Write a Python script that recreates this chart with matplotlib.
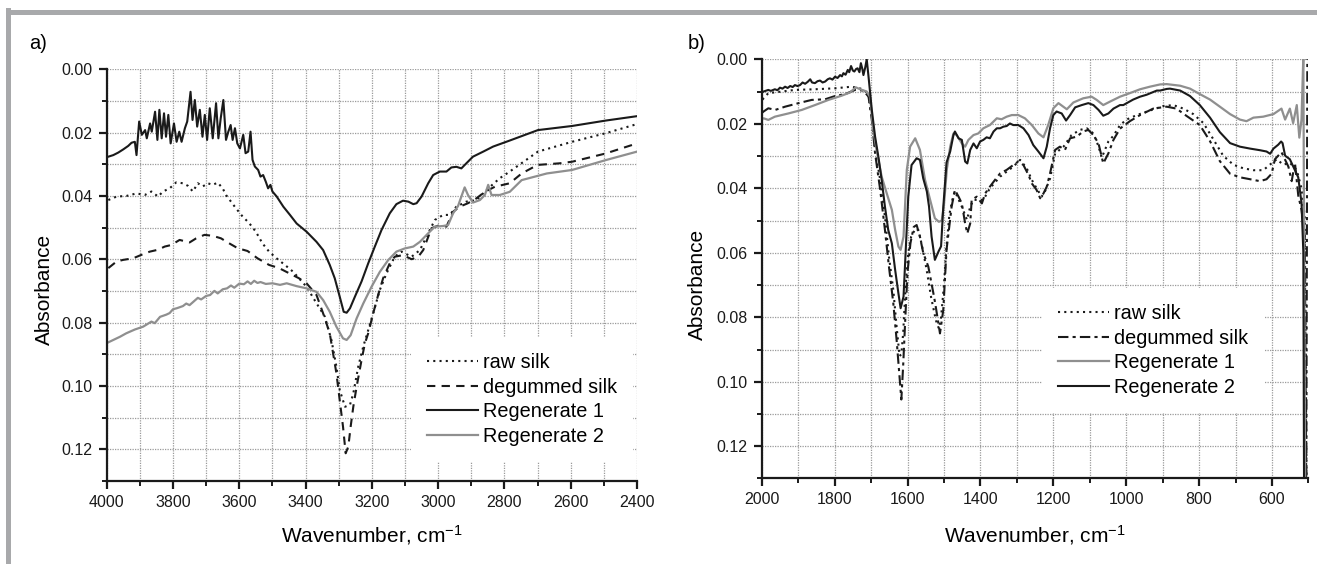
import matplotlib
matplotlib.use("Agg")
import matplotlib.pyplot as plt
from matplotlib.lines import Line2D
from matplotlib.ticker import MultipleLocator, FormatStrFormatter

plt.rcParams['font.family'] = ['Liberation Sans', 'DejaVu Sans']
plt.rcParams['mathtext.default'] = 'regular'

# ---- panel a) 4000-2400 cm-1 ----
a_raw_wn = [3995, 3970, 3940, 3910, 3885, 3865, 3845, 3830, 3810, 3790, 3770, 3755, 3740, 3725, 3710,
            3695, 3680, 3665, 3650, 3640, 3625, 3610, 3590, 3570, 3550, 3530, 3510, 3490, 3460, 3437,
            3397, 3367, 3342, 3322, 3307, 3297, 3281, 3266, 3256, 3241, 3226, 3211, 3196, 3176, 3156,
            3131, 3111, 3080, 3055, 3030, 3010, 2985, 2965, 2945, 2915, 2884, 2854, 2814, 2784, 2699,
            2596, 2495, 2400]
a_raw = [0.0413, 0.0402, 0.0400, 0.0392, 0.0397, 0.0386, 0.0402, 0.0386, 0.0376, 0.0357, 0.0360, 0.0368,
         0.0386, 0.0360, 0.0370, 0.0360, 0.0365, 0.0358, 0.0376, 0.0397, 0.0418, 0.0439, 0.0465, 0.0486,
         0.0513, 0.0550, 0.0576, 0.0595, 0.0620, 0.0640, 0.0687, 0.0739, 0.0781, 0.0855, 0.0939, 0.1013,
         0.1066, 0.1060, 0.1024, 0.0939, 0.0876, 0.0824, 0.0771, 0.0697, 0.0645, 0.0592, 0.0576, 0.0592,
         0.0571, 0.0518, 0.0476, 0.0460, 0.0460, 0.0434, 0.0418, 0.0413, 0.0381, 0.0344, 0.0323, 0.0260,
         0.0229, 0.0202, 0.0173]

a_deg_wn = [3995, 3970, 3950, 3920, 3895, 3870, 3845, 3825, 3805, 3780, 3750, 3730, 3705, 3680, 3655,
            3635, 3605, 3575, 3545, 3510, 3480, 3450, 3420, 3397, 3367, 3347, 3327, 3317, 3307, 3297,
            3287, 3279, 3271, 3264, 3256, 3246, 3231, 3221, 3211, 3196, 3181, 3166, 3146, 3131, 3106,
            3080, 3060, 3045, 3020, 2995, 2975, 2955, 2935, 2910, 2885, 2859, 2829, 2784, 2748, 2700,
            2634, 2596, 2495, 2400]
a_deg = [0.0628, 0.0607, 0.0602, 0.0597, 0.0586, 0.0576, 0.0570, 0.0560, 0.0555, 0.0539, 0.0547, 0.0534,
         0.0523, 0.0526, 0.0534, 0.0547, 0.0565, 0.0574, 0.0597, 0.0618, 0.0628, 0.0644, 0.0660, 0.0676,
         0.0713, 0.0771, 0.0834, 0.0897, 0.0960, 0.1045, 0.1129, 0.1213, 0.1192, 0.1129, 0.1066, 0.1003,
         0.0918, 0.0866, 0.0834, 0.0771, 0.0713, 0.0660, 0.0613, 0.0592, 0.0587, 0.0600, 0.0592, 0.0571,
         0.0502, 0.0492, 0.0497, 0.0450, 0.0434, 0.0423, 0.0408, 0.0387, 0.0371, 0.0360, 0.0329, 0.0302,
         0.0297, 0.0292, 0.0266, 0.0234]

a_reg1_wn = [3995, 3980, 3965, 3950, 3935, 3925, 3915, 3910, 3902, 3894, 3884, 3879, 3869, 3864, 3854,
             3847, 3841, 3834, 3827, 3821, 3814, 3807, 3797, 3789, 3781, 3774, 3764, 3757, 3747, 3741,
             3734, 3727, 3719, 3711, 3704, 3697, 3689, 3680, 3670, 3663, 3656, 3648, 3640, 3633, 3626,
             3620, 3613, 3606, 3598, 3588, 3581, 3573, 3566, 3560, 3553, 3543, 3536, 3528, 3520, 3513,
             3506, 3500, 3487, 3477, 3467, 3447, 3427, 3397, 3367, 3347, 3327, 3312, 3297, 3285, 3276,
             3266, 3251, 3231, 3211, 3191, 3171, 3146, 3126, 3106, 3090, 3075, 3065, 3050, 3030, 3015,
             2995, 2975, 2960, 2945, 2930, 2915, 2895, 2864, 2834, 2784, 2699, 2596, 2495, 2400]
a_reg1 = [0.0276, 0.0271, 0.0263, 0.0253, 0.0242, 0.0232, 0.0229, 0.0271, 0.0165, 0.0207, 0.0192, 0.0218,
          0.0171, 0.0197, 0.0134, 0.0223, 0.0128, 0.0218, 0.0139, 0.0213, 0.0144, 0.0234, 0.0171, 0.0229,
          0.0197, 0.0229, 0.0186, 0.0165, 0.0071, 0.0160, 0.0097, 0.0181, 0.0128, 0.0213, 0.0144, 0.0223,
          0.0123, 0.0218, 0.0107, 0.0218, 0.0155, 0.0097, 0.0223, 0.0197, 0.0176, 0.0223, 0.0186, 0.0234,
          0.0250, 0.0207, 0.0265, 0.0260, 0.0197, 0.0286, 0.0307, 0.0318, 0.0339, 0.0334, 0.0355, 0.0376,
          0.0365, 0.0386, 0.0402, 0.0418, 0.0434, 0.0460, 0.0487, 0.0513, 0.0545, 0.0571, 0.0618, 0.0660,
          0.0718, 0.0766, 0.0769, 0.0755, 0.0718, 0.0670, 0.0613, 0.0560, 0.0508, 0.0455, 0.0426, 0.0415,
          0.0418, 0.0426, 0.0423, 0.0402, 0.0360, 0.0334, 0.0323, 0.0323, 0.0310, 0.0308, 0.0313, 0.0297,
          0.0276, 0.0260, 0.0244, 0.0225, 0.0192, 0.0179, 0.0162, 0.0148]

a_reg2_wn = [3998, 3960, 3941, 3915, 3890, 3865, 3855, 3839, 3820, 3810, 3800, 3789, 3770, 3760, 3750,
             3738, 3725, 3715, 3700, 3688, 3675, 3665, 3650, 3637, 3625, 3615, 3600, 3586, 3575, 3565,
             3555, 3545, 3536, 3520, 3500, 3477, 3457, 3427, 3397, 3367, 3347, 3327, 3307, 3287, 3276,
             3264, 3246, 3226, 3201, 3176, 3151, 3126, 3101, 3075, 3055, 3030, 3010, 2985, 2970, 2955,
             2940, 2930, 2920, 2910, 2895, 2874, 2859, 2849, 2839, 2814, 2784, 2748, 2672, 2596, 2495, 2400]
a_reg2 = [0.0864, 0.0845, 0.0834, 0.0822, 0.0813, 0.0797, 0.0802, 0.0782, 0.0775, 0.0770, 0.0758, 0.0755,
          0.0748, 0.0740, 0.0745, 0.0734, 0.0722, 0.0727, 0.0716, 0.0713, 0.0700, 0.0708, 0.0695, 0.0692,
          0.0683, 0.0690, 0.0677, 0.0679, 0.0670, 0.0678, 0.0668, 0.0675, 0.0672, 0.0678, 0.0676, 0.0681,
          0.0676, 0.0685, 0.0692, 0.0703, 0.0729, 0.0766, 0.0813, 0.0850, 0.0855, 0.0840, 0.0787, 0.0740,
          0.0687, 0.0640, 0.0603, 0.0576, 0.0566, 0.0560, 0.0545, 0.0518, 0.0497, 0.0495, 0.0492, 0.0455,
          0.0432, 0.0402, 0.0373, 0.0397, 0.0421, 0.0413, 0.0397, 0.0365, 0.0397, 0.0397, 0.0387, 0.0350,
          0.0329, 0.0318, 0.0287, 0.0260]

# ---- panel b) 2000-500 cm-1 ----
b_raw_wn = [1998, 1995, 1982, 1945, 1909, 1854, 1799, 1753, 1721, 1707, 1698, 1689, 1675, 1662, 1651,
            1639, 1630, 1622, 1617, 1612, 1605, 1598, 1590, 1578, 1570, 1560, 1548, 1535, 1522, 1514,
            1508, 1500, 1493, 1485, 1475, 1470, 1451, 1437, 1428, 1419, 1392, 1374, 1346, 1310, 1291,
            1273, 1259, 1246, 1232, 1223, 1209, 1195, 1172, 1150, 1127, 1108, 1090, 1076, 1067, 1058,
            1049, 1035, 1017, 999, 971, 935, 898, 871, 843, 816, 788, 761, 734, 706, 679, 651, 624, 606,
            587, 569, 551, 532, 519, 510, 505]
b_raw = [0.0125, 0.0121, 0.0105, 0.0100, 0.0095, 0.0093, 0.0090, 0.0085, 0.0093, 0.0111, 0.0178, 0.0281,
         0.0374, 0.0488, 0.0612, 0.0716, 0.0829, 0.0920, 0.0915, 0.0850, 0.0700, 0.0600, 0.0550, 0.0525,
         0.0530, 0.0580, 0.0650, 0.0740, 0.0810, 0.0835, 0.0800, 0.0700, 0.0580, 0.0480, 0.0425, 0.0410,
         0.0457, 0.0498, 0.0457, 0.0436, 0.0436, 0.0400, 0.0364, 0.0333, 0.0312, 0.0338, 0.0374, 0.0400,
         0.0426, 0.0410, 0.0370, 0.0292, 0.0271, 0.0235, 0.0219, 0.0214, 0.0230, 0.0270, 0.0305, 0.0280,
         0.0255, 0.0237, 0.0204, 0.0187, 0.0173, 0.0159, 0.0145, 0.0142, 0.0153, 0.0170, 0.0198, 0.0248,
         0.0299, 0.0327, 0.0338, 0.0344, 0.0344, 0.0327, 0.0310, 0.0327, 0.0321, 0.0344, 0.0400, 0.0490,
         0.1350]

b_deg_wn = [1998, 1995, 1982, 1963, 1936, 1899, 1863, 1826, 1799, 1771, 1744, 1721, 1707, 1698, 1689,
            1675, 1662, 1651, 1639, 1630, 1622, 1617, 1612, 1606, 1600, 1592, 1583, 1575, 1566, 1557,
            1543, 1530, 1524, 1511, 1502, 1493, 1479, 1470, 1460, 1451, 1442, 1436, 1428, 1424, 1410,
            1396, 1387, 1374, 1360, 1346, 1328, 1310, 1296, 1282, 1268, 1259, 1246, 1236, 1227, 1218,
            1209, 1195, 1182, 1168, 1154, 1136, 1118, 1104, 1090, 1076, 1063, 1049, 1035, 1017, 990,
            962, 926, 889, 862, 834, 798, 770, 743, 715, 688, 660, 633, 615, 601, 592, 574, 555, 546,
            537, 528, 519, 510, 506, 503]
b_deg = [0.0165, 0.0162, 0.0152, 0.0157, 0.0147, 0.0136, 0.0126, 0.0124, 0.0114, 0.0108, 0.0095, 0.0097,
         0.0116, 0.0188, 0.0292, 0.0405, 0.0529, 0.0643, 0.0757, 0.0870, 0.0984, 0.1055, 0.0950, 0.0800,
         0.0660, 0.0570, 0.0520, 0.0514, 0.0550, 0.0600, 0.0643, 0.0720, 0.0757, 0.0850, 0.0778, 0.0591,
         0.0457, 0.0405, 0.0426, 0.0447, 0.0509, 0.0540, 0.0509, 0.0436, 0.0426, 0.0447, 0.0416, 0.0395,
         0.0374, 0.0354, 0.0343, 0.0328, 0.0317, 0.0328, 0.0359, 0.0385, 0.0405, 0.0431, 0.0416, 0.0395,
         0.0354, 0.0281, 0.0271, 0.0281, 0.0245, 0.0240, 0.0224, 0.0219, 0.0235, 0.0261, 0.0323, 0.0292,
         0.0250, 0.0215, 0.0192, 0.0173, 0.0153, 0.0147, 0.0153, 0.0176, 0.0204, 0.0254, 0.0316, 0.0355,
         0.0366, 0.0372, 0.0378, 0.0372, 0.0355, 0.0310, 0.0288, 0.0333, 0.0378, 0.0321, 0.0422, 0.0467,
         0.0550, 0.1350, -0.0010]

b_reg1_wn = [1998, 1995, 1982, 1964, 1927, 1890, 1854, 1817, 1781, 1758, 1742, 1730, 1712, 1703, 1694,
             1685, 1671, 1657, 1643, 1634, 1625, 1619, 1611, 1602, 1593, 1579, 1566, 1552, 1538, 1525,
             1514, 1506, 1500, 1492, 1483, 1474, 1465, 1451, 1442, 1433, 1419, 1406, 1392, 1374, 1355,
             1342, 1328, 1314, 1296, 1278, 1259, 1241, 1227, 1214, 1200, 1186, 1163, 1145, 1118, 1095,
             1081, 1063, 1044, 1017, 990, 962, 935, 907, 889, 852, 825, 798, 770, 743, 715, 688, 670,
             651, 624, 596, 574, 564, 551, 542, 532, 525, 519, 514, 509]
b_reg1 = [0.0185, 0.0183, 0.0188, 0.0178, 0.0168, 0.0157, 0.0142, 0.0126, 0.0113, 0.0103, 0.0087, 0.0093,
          0.0100, 0.0116, 0.0219, 0.0281, 0.0364, 0.0416, 0.0467, 0.0529, 0.0581, 0.0591, 0.0550, 0.0343,
          0.0271, 0.0245, 0.0281, 0.0374, 0.0436, 0.0493, 0.0504, 0.0500, 0.0450, 0.0340, 0.0271, 0.0230,
          0.0235, 0.0261, 0.0271, 0.0250, 0.0235, 0.0230, 0.0214, 0.0204, 0.0183, 0.0186, 0.0178, 0.0173,
          0.0173, 0.0183, 0.0204, 0.0230, 0.0242, 0.0204, 0.0152, 0.0136, 0.0155, 0.0134, 0.0121, 0.0116,
          0.0126, 0.0142, 0.0131, 0.0116, 0.0105, 0.0093, 0.0085, 0.0078, 0.0077, 0.0082, 0.0091, 0.0108,
          0.0125, 0.0147, 0.0170, 0.0187, 0.0192, 0.0181, 0.0178, 0.0170, 0.0153, 0.0187, 0.0153, 0.0198,
          0.0142, 0.0243, 0.0187, -0.0010, 0.1350]

b_reg2_wn = [1998, 1995, 1982, 1975, 1964, 1957, 1950, 1943, 1936, 1929, 1922, 1915, 1909, 1902, 1895,
             1888, 1881, 1874, 1867, 1862, 1854, 1847, 1840, 1833, 1826, 1819, 1813, 1806, 1799, 1792,
             1785, 1780, 1776, 1770, 1764, 1760, 1755, 1750, 1746, 1741, 1737, 1732, 1728, 1724, 1721,
             1716, 1712, 1707, 1698, 1689, 1680, 1671, 1662, 1653, 1643, 1634, 1625, 1619, 1611, 1605,
             1598, 1589, 1575, 1566, 1557, 1547, 1541, 1534, 1525, 1515, 1508, 1502, 1493, 1483, 1474,
             1470, 1460, 1451, 1442, 1436, 1428, 1419, 1410, 1401, 1392, 1383, 1374, 1364, 1355, 1346,
             1337, 1328, 1319, 1310, 1296, 1282, 1268, 1255, 1241, 1227, 1218, 1209, 1200, 1191, 1177,
             1165, 1154, 1140, 1122, 1104, 1090, 1076, 1063, 1049, 1035, 1017, 1008, 981, 962, 944, 916,
             907, 889, 880, 852, 825, 798, 770, 743, 715, 688, 660, 633, 615, 605, 596, 583, 575, 571,
             564, 551, 537, 528, 519, 514, 512]
b_reg2 = [0.0102, 0.0100, 0.0095, 0.0098, 0.0093, 0.0096, 0.0088, 0.0091, 0.0085, 0.0089, 0.0083, 0.0086,
          0.0080, 0.0083, 0.0080, 0.0072, 0.0076, 0.0070, 0.0062, 0.0072, 0.0074, 0.0068, 0.0066, 0.0072,
          0.0069, 0.0062, 0.0059, 0.0063, 0.0054, 0.0058, 0.0049, 0.0053, 0.0043, 0.0048, 0.0033, 0.0040,
          0.0021, 0.0035, 0.0038, 0.0030, 0.0028, 0.0040, 0.0012, 0.0030, 0.0049, 0.0025, 0.0000, 0.0054,
          0.0157, 0.0240, 0.0302, 0.0374, 0.0457, 0.0529, 0.0571, 0.0653, 0.0726, 0.0772, 0.0736, 0.0591,
          0.0426, 0.0328, 0.0307, 0.0312, 0.0369, 0.0410, 0.0457, 0.0550, 0.0622, 0.0596, 0.0580, 0.0460,
          0.0320, 0.0286, 0.0235, 0.0224, 0.0245, 0.0250, 0.0317, 0.0323, 0.0281, 0.0261, 0.0276, 0.0255,
          0.0250, 0.0242, 0.0245, 0.0224, 0.0214, 0.0214, 0.0209, 0.0207, 0.0199, 0.0204, 0.0204, 0.0214,
          0.0235, 0.0266, 0.0286, 0.0307, 0.0271, 0.0214, 0.0173, 0.0162, 0.0168, 0.0190, 0.0173, 0.0149,
          0.0142, 0.0136, 0.0142, 0.0157, 0.0175, 0.0168, 0.0153, 0.0142, 0.0142, 0.0125, 0.0116, 0.0110,
          0.0097, 0.0097, 0.0092, 0.0091, 0.0097, 0.0114, 0.0142, 0.0181, 0.0226, 0.0260, 0.0271, 0.0277,
          0.0282, 0.0286, 0.0293, 0.0277, 0.0265, 0.0255, 0.0260, 0.0299, 0.0310, 0.0344, 0.0366, 0.0445,
          0.0600, 0.1350]

BLACK = '#1a1a1a'
GRAY = '#8f8f8f'
GRIDC = '#9a9a9a'


def style_axes(ax, xlim, ylab_xy, xlab_y):
    ax.set_xlim(*xlim)
    ax.set_ylim(0.13, 0.0)
    ax.xaxis.set_major_locator(MultipleLocator(200))
    ax.xaxis.set_minor_locator(MultipleLocator(100))
    ax.yaxis.set_major_locator(MultipleLocator(0.02))
    ax.yaxis.set_minor_locator(MultipleLocator(0.01))
    ax.yaxis.set_major_formatter(FormatStrFormatter('%.2f'))
    ax.grid(True, which='both', color=GRIDC, lw=0.9, ls=(0, (1, 1)))
    ax.set_axisbelow(True)
    for s in ['top', 'right']:
        ax.spines[s].set_visible(False)
    for s in ['left', 'bottom']:
        ax.spines[s].set_linewidth(1.6)
        ax.spines[s].set_color(BLACK)
    ax.tick_params(which='major', direction='out', length=6, width=1.6, labelsize=11.5, pad=4, colors=BLACK)
    ax.tick_params(which='minor', direction='out', length=3.5, width=1.4, colors=BLACK)
    ax.set_xlabel('Wavenumber, cm$^{-1}$', fontsize=15)
    ax.set_ylabel('Absorbance', fontsize=15)
    ax.yaxis.set_label_coords(*ylab_xy)
    ax.xaxis.set_label_coords(0.5, xlab_y)


def add_legend(ax, anchor):
    ax.legend(loc='center left', bbox_to_anchor=anchor, fontsize=14.3, frameon=True,
              facecolor='white', edgecolor='none', framealpha=1, fancybox=False,
              handlelength=2.57, handletextpad=0.25, labelspacing=0.28, borderpad=0.8,
              borderaxespad=0)


fig = plt.figure(figsize=(13.17, 5.64), dpi=100)

# panel a
ax1 = fig.add_axes([0.0810, 0.1475, 0.4027, 0.7296])
ax1.plot(a_raw_wn, a_raw, color=BLACK, lw=1.5, ls=(0, (1, 2)), label='raw silk')
ax1.plot(a_deg_wn, a_deg, color=BLACK, lw=1.5, ls=(0, (4, 3)), label='degummed silk')
ax1.plot(a_reg1_wn, a_reg1, color=BLACK, lw=1.5, label='Regenerate 1')
ax1.plot(a_reg2_wn, a_reg2, color=GRAY, lw=1.6, label='Regenerate 2')
style_axes(ax1, (4000, 2400), (-0.099, 0.464), -0.102)
add_legend(ax1, (0.574, 0.1976))
fig.text(0.0288, 0.923, 'a)', fontsize=14.5, ha='center', va='center')

# panel b
ax2 = fig.add_axes([0.5784, 0.1516, 0.4151, 0.7433])
ax2.plot(b_raw_wn, b_raw, color=BLACK, lw=1.5, ls=(0, (1, 2)), label='raw silk')
ax2.plot(b_deg_wn, b_deg, color=BLACK, lw=1.5, ls=(0, (5, 2, 1.5, 2)), label='degummed silk')
ax2.plot(b_reg1_wn, b_reg1, color=GRAY, lw=1.6, label='Regenerate 1')
ax2.plot(b_reg2_wn, b_reg2, color=BLACK, lw=1.5, label='Regenerate 2')
style_axes(ax2, (2000, 500), (-0.100, 0.464), -0.106)
add_legend(ax2, (0.5128, 0.3053))
fig.text(0.529, 0.923, 'b)', fontsize=14.5, ha='center', va='center')

# gray frame along top and left edge
fig.add_artist(Line2D([0.00645, 1.0], [0.9793, 0.9793], transform=fig.transFigure, color='#a8a9ab', lw=3.6))
fig.add_artist(Line2D([0.00645, 0.00645], [0.0, 0.9825], transform=fig.transFigure, color='#a8a9ab', lw=3.6))

fig.savefig('out.png', dpi=100)
